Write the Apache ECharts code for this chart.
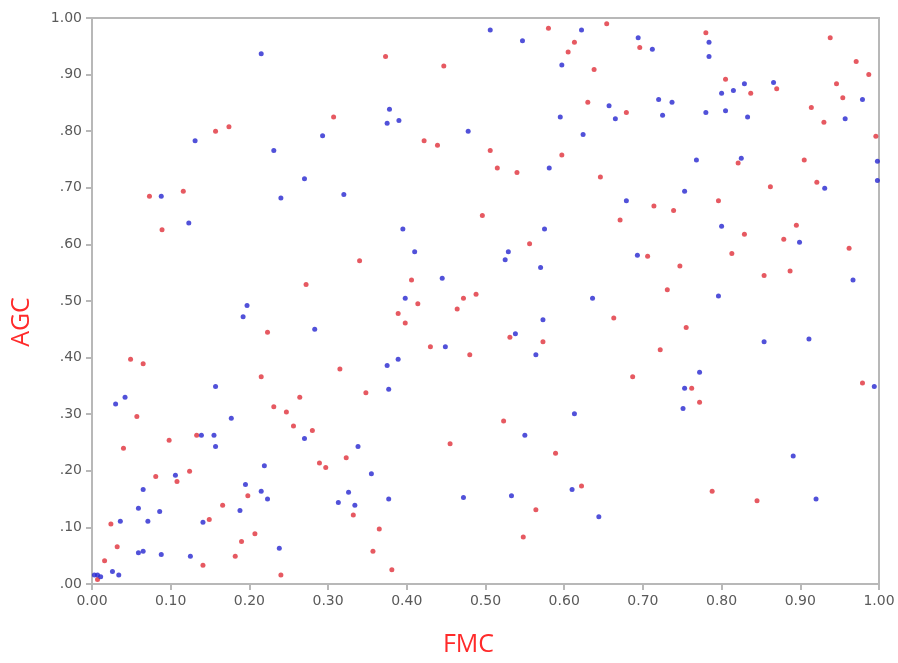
<!DOCTYPE html>
<html>
<head>
<meta charset="utf-8">
<script src="https://cdn.jsdelivr.net/npm/echarts@6/dist/echarts.min.js"></script>
<style>
    html, body { margin: 0; padding: 0; background: #fff; }
    #chart { width: 898px; height: 663px; }
</style>
</head>
<body>
<div id="chart"></div>
<script>
// tick values for both axes
var ticks = [0, 0.1, 0.2, 0.3, 0.4, 0.5, 0.6, 0.7, 0.8, 0.9, 1.0];

// red points [FMC, AGC]
var redPoints = [
    [0.157, 0.800], [0.174, 0.808], [0.073, 0.685], [0.116, 0.694], [0.089, 0.626],
    [0.223, 0.445], [0.049, 0.397], [0.065, 0.389], [0.215, 0.366], [0.231, 0.313],
    [0.247, 0.304], [0.057, 0.296], [0.098, 0.254], [0.133, 0.263], [0.040, 0.240],
    [0.124, 0.199], [0.108, 0.181], [0.081, 0.190], [0.198, 0.156], [0.166, 0.139],
    [0.024, 0.106], [0.149, 0.114], [0.207, 0.089], [0.032, 0.066], [0.190, 0.075],
    [0.182, 0.049], [0.016, 0.041], [0.141, 0.033], [0.007, 0.008], [0.240, 0.016],
    [0.373, 0.932], [0.447, 0.915], [0.307, 0.825], [0.422, 0.783], [0.439, 0.775],
    [0.506, 0.766], [0.496, 0.651], [0.340, 0.571], [0.272, 0.529], [0.406, 0.537],
    [0.472, 0.505], [0.488, 0.512], [0.414, 0.495], [0.389, 0.478], [0.464, 0.486],
    [0.398, 0.461], [0.430, 0.419], [0.480, 0.405], [0.315, 0.380], [0.348, 0.338],
    [0.264, 0.330], [0.256, 0.279], [0.280, 0.271], [0.455, 0.248], [0.323, 0.223],
    [0.289, 0.214], [0.297, 0.206], [0.332, 0.122], [0.365, 0.097], [0.357, 0.058],
    [0.381, 0.025], [0.580, 0.982], [0.654, 0.990], [0.613, 0.957], [0.605, 0.940],
    [0.696, 0.948], [0.638, 0.909], [0.630, 0.851], [0.679, 0.833], [0.597, 0.758],
    [0.515, 0.735], [0.540, 0.727], [0.646, 0.719], [0.714, 0.668], [0.739, 0.660],
    [0.671, 0.643], [0.556, 0.601], [0.706, 0.579], [0.747, 0.562], [0.731, 0.520],
    [0.663, 0.470], [0.755, 0.453], [0.531, 0.436], [0.573, 0.428], [0.722, 0.414],
    [0.687, 0.366], [0.762, 0.346], [0.523, 0.288], [0.589, 0.231], [0.622, 0.173],
    [0.564, 0.131], [0.548, 0.083], [0.780, 0.974], [0.938, 0.965], [0.971, 0.923],
    [0.987, 0.900], [0.805, 0.892], [0.870, 0.875], [0.837, 0.867], [0.946, 0.884],
    [0.954, 0.859], [0.914, 0.842], [0.930, 0.816], [0.996, 0.791], [0.821, 0.744],
    [0.905, 0.749], [0.921, 0.710], [0.862, 0.702], [0.796, 0.677], [0.829, 0.618],
    [0.895, 0.634], [0.879, 0.609], [0.813, 0.584], [0.962, 0.593], [0.854, 0.545],
    [0.887, 0.553], [0.772, 0.321], [0.979, 0.355], [0.788, 0.164], [0.845, 0.147]
];

// blue points [FMC, AGC]
var bluePoints = [
    [0.215, 0.937], [0.131, 0.783], [0.231, 0.766], [0.088, 0.685], [0.240, 0.682],
    [0.123, 0.638], [0.197, 0.492], [0.192, 0.472], [0.157, 0.349], [0.042, 0.330],
    [0.030, 0.318], [0.177, 0.293], [0.139, 0.263], [0.155, 0.263], [0.157, 0.243],
    [0.219, 0.209], [0.106, 0.192], [0.065, 0.167], [0.195, 0.176], [0.215, 0.164],
    [0.223, 0.150], [0.059, 0.134], [0.188, 0.130], [0.086, 0.128], [0.036, 0.111],
    [0.071, 0.111], [0.141, 0.109], [0.238, 0.063], [0.059, 0.055], [0.065, 0.058],
    [0.088, 0.052], [0.125, 0.049], [0.026, 0.022], [0.034, 0.016], [0.003, 0.016],
    [0.007, 0.016], [0.011, 0.013], [0.506, 0.979], [0.378, 0.839], [0.390, 0.819],
    [0.375, 0.814], [0.293, 0.792], [0.478, 0.800], [0.270, 0.716], [0.320, 0.688],
    [0.395, 0.627], [0.410, 0.587], [0.445, 0.540], [0.398, 0.505], [0.283, 0.450],
    [0.449, 0.419], [0.389, 0.397], [0.375, 0.386], [0.377, 0.344], [0.270, 0.257],
    [0.338, 0.243], [0.355, 0.195], [0.326, 0.162], [0.313, 0.144], [0.334, 0.139],
    [0.377, 0.150], [0.472, 0.153], [0.622, 0.979], [0.547, 0.960], [0.694, 0.965],
    [0.712, 0.945], [0.597, 0.917], [0.657, 0.845], [0.665, 0.822], [0.720, 0.856],
    [0.737, 0.851], [0.725, 0.828], [0.595, 0.825], [0.624, 0.794], [0.581, 0.735],
    [0.753, 0.694], [0.679, 0.677], [0.575, 0.627], [0.529, 0.587], [0.525, 0.573],
    [0.570, 0.559], [0.693, 0.581], [0.636, 0.505], [0.573, 0.467], [0.538, 0.442],
    [0.564, 0.405], [0.753, 0.346], [0.751, 0.310], [0.613, 0.301], [0.550, 0.263],
    [0.610, 0.167], [0.533, 0.156], [0.644, 0.119], [0.784, 0.957], [0.784, 0.932],
    [0.829, 0.884], [0.866, 0.886], [0.800, 0.867], [0.815, 0.872], [0.979, 0.856],
    [0.957, 0.822], [0.780, 0.833], [0.805, 0.836], [0.833, 0.825], [0.768, 0.749],
    [0.825, 0.752], [0.998, 0.747], [0.998, 0.713], [0.931, 0.699], [0.800, 0.632],
    [0.899, 0.604], [0.967, 0.537], [0.796, 0.509], [0.854, 0.428], [0.911, 0.433],
    [0.772, 0.374], [0.994, 0.349], [0.891, 0.226], [0.920, 0.150]
];

var axisGray = "#b8b8b8";
var labelGray = "#5a5a5a";

var myChart = echarts.init(document.getElementById("chart"));

var option = {
    backgroundColor: "#fff",
    animation: false,
    grid: {
        left: 92,
        right: 19,
        top: 18,
        bottom: 79,
        show: true,
        borderColor: axisGray,
        borderWidth: 2
    },
    xAxis: {
        type: "value",
        min: ticks[0],
        max: ticks[ticks.length - 1],
        interval: 0.1,
        name: "FMC",
        nameLocation: "middle",
        nameGap: 48,
        nameTextStyle: {
            color: "#ff2a2a",
            fontSize: 25,
            fontFamily: "Open Sans",
            padding: [0, 34, 0, 0]
        },
        axisLine: { lineStyle: { color: axisGray, width: 2 } },
        axisTick: { show: true, length: 6, lineStyle: { color: axisGray, width: 2 } },
        splitLine: { show: false },
        axisLabel: {
            color: labelGray,
            fontSize: 14,
            fontFamily: "DejaVu Sans",
            margin: 10,
            formatter: function(value) {
                return value.toFixed(2);
            }
        }
    },
    yAxis: {
        type: "value",
        min: ticks[0],
        max: ticks[ticks.length - 1],
        interval: 0.1,
        name: "AGC",
        nameLocation: "middle",
        nameRotate: 90,
        nameGap: 58,
        nameTextStyle: {
            color: "#ff2a2a",
            fontSize: 25,
            fontFamily: "Open Sans",
            padding: [0, 42, 0, 0]
        },
        axisLine: { show: true, lineStyle: { color: axisGray, width: 2 } },
        axisTick: { show: true, length: 6, lineStyle: { color: axisGray, width: 2 } },
        splitLine: { show: false },
        axisLabel: {
            color: labelGray,
            fontSize: 14,
            fontFamily: "DejaVu Sans",
            margin: 10,
            formatter: function(value) {
                if (value >= 1) return "1.00";
                return value.toFixed(2).replace(/^0/, "");
            }
        }
    },
    series: [
        {
            name: "red",
            type: "scatter",
            symbolSize: 5,
            itemStyle: { color: "#e0303a" },
            data: redPoints
        },
        {
            name: "blue",
            type: "scatter",
            symbolSize: 5,
            itemStyle: { color: "#2626d0" },
            data: bluePoints
        }
    ]
};

myChart.setOption(option);
</script>
</body>
</html>
